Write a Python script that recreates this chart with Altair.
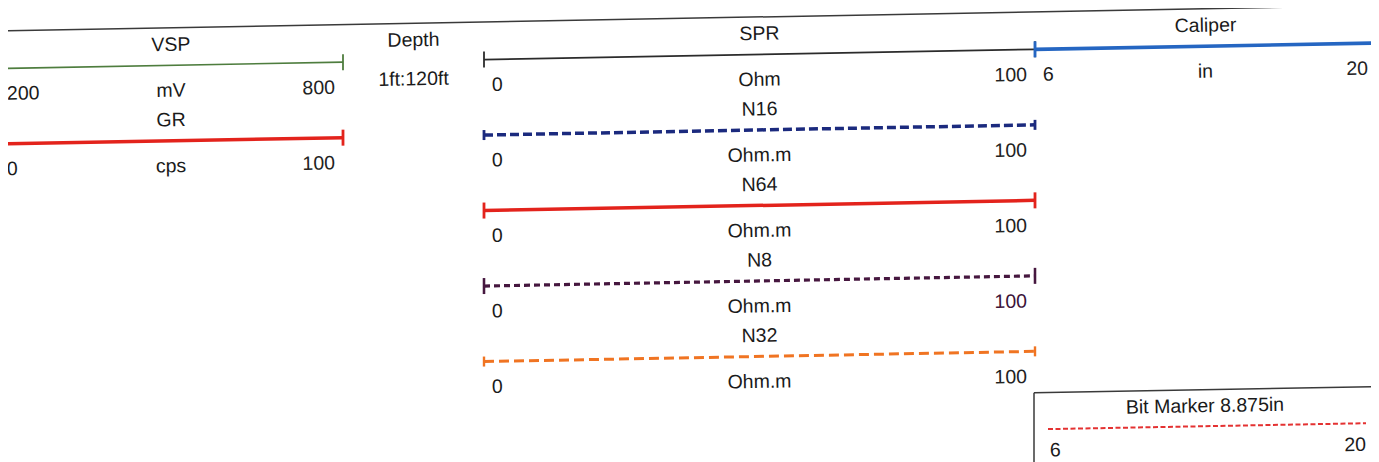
import altair as alt
import pandas as pd

# ---------------- data (read from the header) ----------------
curve_names = ["VSP", "GR", "SPR", "N16", "N64", "N8", "N32", "Caliper"]
curve_units = ["mV", "cps", "Ohm", "Ohm.m", "Ohm.m", "Ohm.m", "Ohm.m", "in"]
curve_left = ["200", "0", "0", "0", "0", "0", "0", "6"]
curve_right = ["800", "100", "100", "100", "100", "100", "100", "20"]
curve_track = [0, 0, 2, 2, 2, 2, 2, 3]
curve_row = [0, 1, 0, 1, 2, 3, 4, 0]

depth_title = "Depth"
depth_scale = "1ft:120ft"

bit_title = "Bit Marker 8.875in"
bit_left = "6"
bit_right = "20"

# ---------------- styles ----------------
curve_color = ["#4e7d3e", "#e3231c", "#2b2b2b", "#1b2a7e", "#e3231c", "#46173f", "#f07422", "#2566c2"]
curve_width = [1.6, 3.5, 1.8, 3.5, 3.5, 3.2, 3.0, 3.6]
curve_dash = [None, None, None, [9, 4], None, [6, 4], [10, 5], None]
curve_ticks = [(False, True), (False, True), (True, True), (True, True),
               (True, True), (True, True), (True, True), (True, True)]
curve_tick_len = [8, 8, 8, 5, 8, 8, 5, 8]
right_label_color = ["#222", "#222", "#222", "#222", "#222", "#3c1238", "#222", "#222"]
bit_color = "#e43232"

# ---------------- layout (scan is slightly tilted) ----------------
SLOPE = 0.0185           # tilt of the scanned page
ANGLE = 358.94           # text tilt in degrees
track_edges = [(-1, 343), (343, 484), (484, 1035), (1035, 1376)]
ROW0, ROWSTEP = 68.5, 75.5
TITLE_OFF, LABEL_OFF, PAD = -21.5, 24.5, 8
TOP_V = 31
BOX_U, BOX_V = 1034, 412
FONT = "Liberation Sans"
FS = 19.5
X0, X1 = 8, 1371   # visible page span (page x)
Y0, Y1 = 8, 462


def Y(u, v):
    return v - SLOPE * u


segs = []   # (x, y, x2, y2, color, width, dash)
texts = []  # (x, y, text, align, color)


def add_text(u, v, t, align, color="#1a1a1a"):
    texts.append(dict(x=u, y=Y(u, v) + 1, text=t, align=align, color=color))


# frame
segs.append(dict(x=-5, y=Y(-5, TOP_V), x2=1379, y2=Y(1379, TOP_V), color="#3a3a3a", width=1.5, dash=None))
segs.append(dict(x=1376, y=Y(1376, TOP_V), x2=1376, y2=470, color="#8a8a8a", width=1.2, dash=None))
segs.append(dict(x=BOX_U, y=Y(BOX_U, BOX_V), x2=1376, y2=Y(1376, BOX_V), color="#3a3a3a", width=1.5, dash=None))
segs.append(dict(x=BOX_U, y=Y(BOX_U, BOX_V), x2=BOX_U, y2=470, color="#3a3a3a", width=1.5, dash=None))

for i, name in enumerate(curve_names):
    u1, u2 = track_edges[curve_track[i]]
    v = ROW0 + ROWSTEP * curve_row[i]
    segs.append(dict(x=u1, y=Y(u1, v), x2=u2, y2=Y(u2, v), color=curve_color[i],
                     width=curve_width[i], dash=curve_dash[i]))
    t = curve_tick_len[i]
    for flag, u in zip(curve_ticks[i], (u1, u2)):
        if flag:
            segs.append(dict(x=u, y=Y(u, v) - t, x2=u, y2=Y(u, v) + t, color=curve_color[i],
                             width=max(curve_width[i] * 0.8, 1.8), dash=None))
    uc = (u1 + u2) / 2
    add_text(uc, v + TITLE_OFF, name, "center")
    add_text(uc, v + LABEL_OFF, curve_units[i], "center")
    add_text(u1 + PAD, v + LABEL_OFF, curve_left[i], "left")
    add_text(u2 - PAD, v + LABEL_OFF, curve_right[i], "right", right_label_color[i])

# depth track
du1, du2 = track_edges[1]
add_text((du1 + du2) / 2, ROW0 + TITLE_OFF, depth_title, "center")
add_text((du1 + du2) / 2, ROW0 + 17.5, depth_scale, "center")

# bit marker box
bu1, bu2 = BOX_U + 14, 1366
bv = BOX_V + 36.5
segs.append(dict(x=bu1, y=Y(bu1, bv), x2=bu2, y2=Y(bu2, bv), color=bit_color, width=2.0, dash=[5, 2.5]))
add_text((BOX_U + 1376) / 2, BOX_V + 15.5, bit_title, "center")
add_text(bu1 + 2, bv + 20.5, bit_left, "left")
add_text(bu2, bv + 20.5, bit_right, "right")

xs = alt.Scale(domain=[X0, X1], nice=False, zero=False)
ys = alt.Scale(domain=[Y0, Y1], nice=False, zero=False, reverse=True)

layers = []
for s in segs:
    df = pd.DataFrame([dict(x=s["x"], y=s["y"], x2=s["x2"], y2=s["y2"])])
    kw = dict(color=s["color"], strokeWidth=s["width"], clip=True, strokeCap="butt")
    if s["dash"]:
        kw["strokeDash"] = s["dash"]
    layers.append(
        alt.Chart(df).mark_rule(**kw).encode(
            x=alt.X("x:Q", scale=xs, axis=None),
            y=alt.Y("y:Q", scale=ys, axis=None),
            x2="x2:Q",
            y2="y2:Q",
        )
    )

tdf = pd.DataFrame(texts)
for al in ["left", "center", "right"]:
    sub = tdf[tdf["align"] == al]
    layers.append(
        alt.Chart(sub).mark_text(align=al, baseline="middle", font=FONT, fontSize=FS,
                                 angle=ANGLE).encode(
            x=alt.X("x:Q", scale=xs, axis=None),
            y=alt.Y("y:Q", scale=ys, axis=None),
            text="text:N",
            color=alt.Color("color:N", scale=None),
        )
    )

chart = alt.layer(*layers).properties(
    width=X1 - X0, height=Y1 - Y0,
    autosize=alt.AutoSizeParams(type="none"),
    padding=0,
    background="white",
).configure_view(stroke=None)

chart.save("out.html", embed_options={"renderer": "svg", "actions": False})
